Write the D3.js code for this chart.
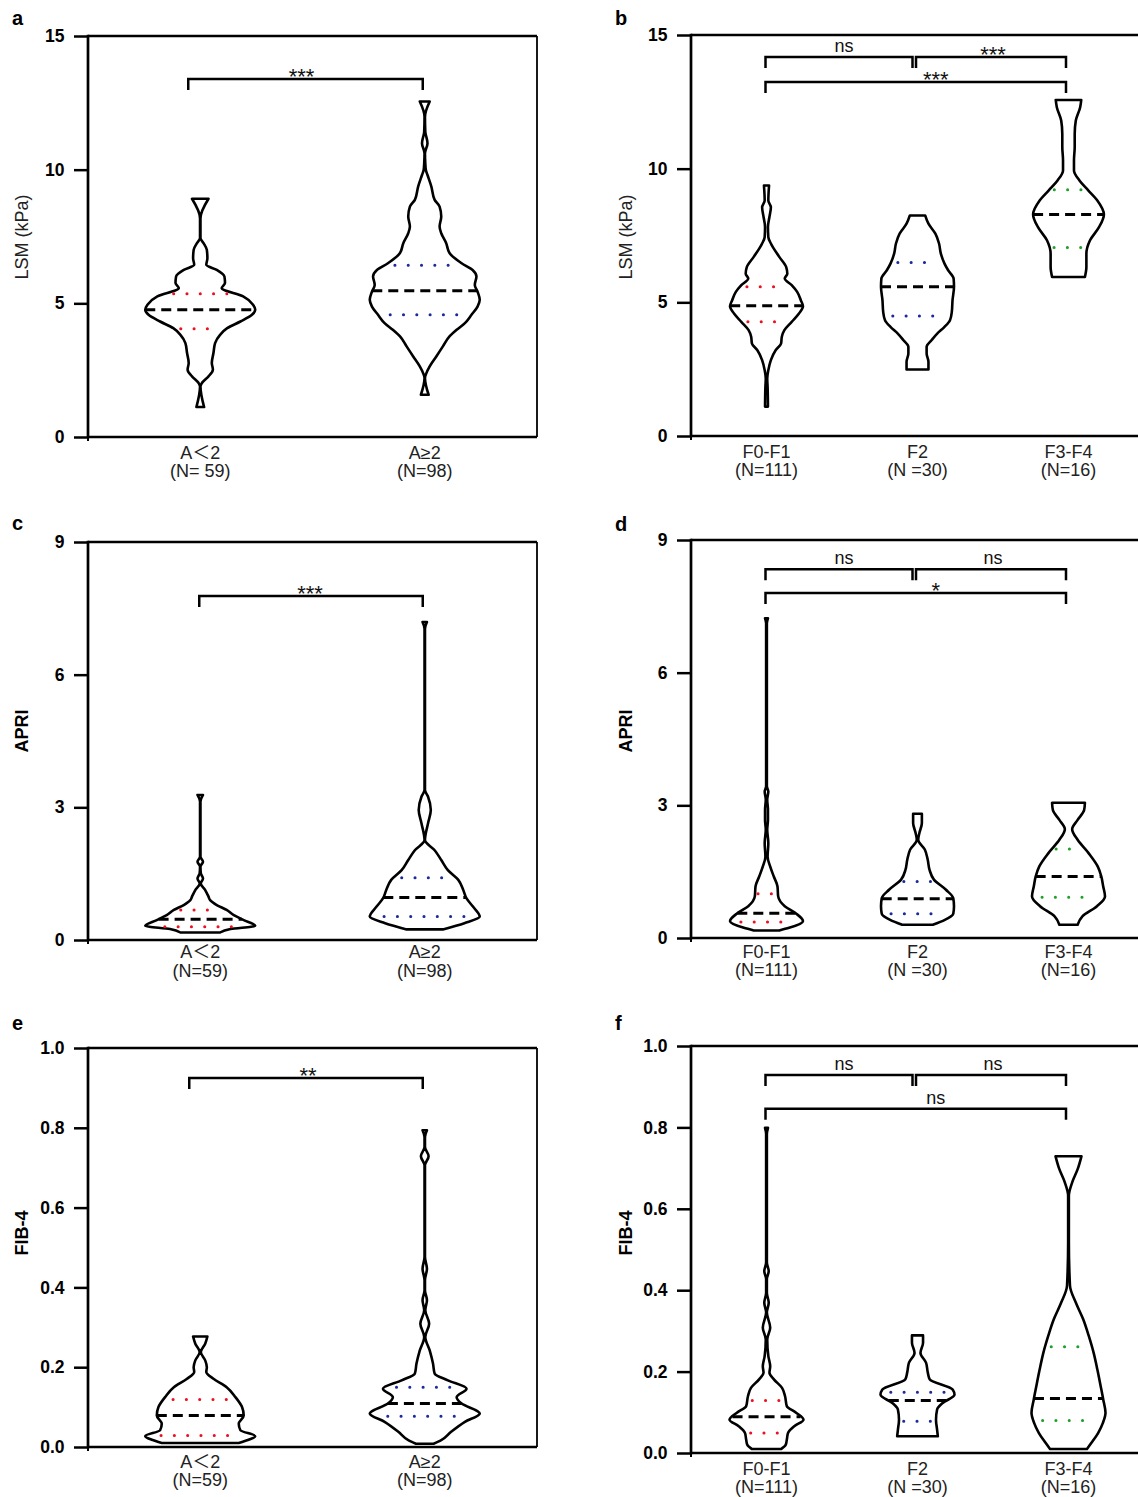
<!DOCTYPE html>
<html><head><meta charset="utf-8">
<script src="https://cdn.jsdelivr.net/npm/d3@7"></script>
<style>body{margin:0;background:#fff} text{font-family:"Liberation Sans",Arial,"Noto Sans CJK SC",sans-serif}</style>
</head><body><svg id="chart" width="1138" height="1497"></svg>
<script>
// ---------- categories ----------
const groupsActivity = ["A\uFF1C2", "A\u22652"];
const nActivityA = ["(N= 59)", "(N=98)"];
const nActivity = ["(N=59)", "(N=98)"];
const groupsFibrosis = ["F0-F1", "F2", "F3-F4"];
const nFibrosis = ["(N=111)", "(N =30)", "(N=16)"];

// ---------- tick labels ----------
const ticksLSM = [0, 5, 10, 15];
const ticksAPRI = [0, 3, 6, 9];
const ticksFIB4 = [0, 0.2, 0.4, 0.6, 0.8, 1.0];

// ---------- violin profiles: [value, relative density (1 = widest)] ----------
const lsmA_lt2 = [[8.91,0.15],[8.18,0.004],[7.44,0.004],[7.25,0.06],[7.00,0.12],[6.69,0.13],[6.44,0.11],[6.25,0.30],[6.00,0.44],[5.76,0.45],[5.57,0.39],[5.26,0.78],[4.95,0.96],[4.76,1.00],[4.57,0.94],[4.32,0.73],[4.07,0.49],[3.82,0.36],[3.51,0.27],[3.14,0.24],[2.77,0.21],[2.52,0.23],[2.27,0.15],[2.02,0.03],[1.89,0.004],[1.12,0.07]];
const lsmA_ge2 = [[12.55,0.09],[11.98,0.004],[11.42,0.01],[10.99,0.05],[10.61,0.004],[10.24,0.01],[9.99,0.02],[9.80,0.05],[9.37,0.12],[8.87,0.18],[8.62,0.27],[8.25,0.30],[7.87,0.27],[7.62,0.30],[7.25,0.39],[6.88,0.45],[6.50,0.67],[6.25,0.87],[6.00,0.94],[5.69,0.91],[5.44,0.96],[5.13,1.00],[4.88,0.96],[4.57,0.85],[4.26,0.73],[4.01,0.58],[3.76,0.45],[3.39,0.33],[3.01,0.21],[2.64,0.09],[2.39,0.03],[2.21,0.004],[1.58,0.07]];
const lsmF_01 = [[9.37,0.07],[8.81,0.05],[8.56,0.12],[8.19,0.08],[7.82,0.04],[7.44,0.05],[7.20,0.12],[6.70,0.35],[6.32,0.54],[6.07,0.57],[5.89,0.50],[5.64,0.69],[5.39,0.84],[5.08,0.94],[4.85,1.00],[4.58,0.89],[4.27,0.69],[3.96,0.49],[3.71,0.42],[3.46,0.40],[3.21,0.25],[2.84,0.12],[2.46,0.05],[2.15,0.02],[1.84,0.03],[1.10,0.04]];
const lsmF_2 = [[8.25,0.21],[7.94,0.30],[7.57,0.49],[7.20,0.59],[6.82,0.64],[6.45,0.74],[6.20,0.84],[5.89,0.99],[5.58,1.00],[5.08,0.96],[4.64,0.94],[4.33,0.89],[4.08,0.74],[3.83,0.54],[3.59,0.39],[3.34,0.25],[3.09,0.25],[2.78,0.30],[2.49,0.30]];
const lsmF_34 = [[12.57,0.35],[12.30,0.32],[11.80,0.20],[11.30,0.17],[10.81,0.17],[10.31,0.15],[9.93,0.15],[9.56,0.30],[9.19,0.54],[8.81,0.79],[8.29,0.97],[7.82,0.84],[7.32,0.59],[6.82,0.49],[6.32,0.49],[5.95,0.45]];

const apriA_lt2 = [[3.28,0.05],[3.13,0.004],[1.88,0.004],[1.77,0.05],[1.66,0.004],[1.51,0.01],[1.39,0.05],[1.28,0.01],[1.13,0.09],[0.98,0.15],[0.90,0.18],[0.79,0.30],[0.68,0.48],[0.56,0.61],[0.45,0.79],[0.32,1.00],[0.25,0.55],[0.17,0.36]];
const apriA_ge2 = [[7.19,0.04],[7.04,0.004],[3.39,0.004],[3.24,0.06],[2.94,0.11],[2.64,0.06],[2.26,0.004],[2.03,0.18],[1.81,0.30],[1.58,0.42],[1.36,0.61],[1.13,0.70],[0.94,0.76],[0.75,0.88],[0.53,1.00],[0.38,0.72],[0.24,0.33]];
const apriF_01 = [[7.23,0.04],[7.12,0.01],[3.43,0.01],[3.31,0.05],[3.13,0.02],[2.90,0.04],[2.67,0.04],[2.45,0.02],[2.15,0.05],[1.84,0.03],[1.62,0.10],[1.39,0.20],[1.17,0.30],[0.94,0.32],[0.72,0.50],[0.56,0.80],[0.38,1.00],[0.23,0.62],[0.17,0.35]];
const apriF_2 = [[2.81,0.12],[2.60,0.12],[2.37,0.05],[2.22,0.02],[2.00,0.20],[1.77,0.28],[1.54,0.33],[1.32,0.45],[1.09,0.78],[0.90,0.98],[0.72,1.00],[0.55,0.98],[0.41,0.75],[0.30,0.42]];
const apriF_34 = [[3.06,0.45],[2.90,0.43],[2.67,0.25],[2.46,0.10],[2.22,0.25],[1.92,0.55],[1.62,0.80],[1.39,0.90],[1.17,0.95],[0.94,1.00],[0.72,0.78],[0.49,0.38],[0.30,0.25]];

const fibA_lt2 = [[0.277,0.13],[0.259,0.09],[0.238,0.01],[0.217,0.09],[0.200,0.12],[0.188,0.11],[0.171,0.24],[0.150,0.48],[0.125,0.64],[0.100,0.76],[0.079,0.79],[0.058,0.70],[0.042,0.73],[0.027,1.00],[0.018,0.88],[0.010,0.70]];
const fibA_ge2 = [[0.794,0.04],[0.777,0.004],[0.752,0.004],[0.729,0.07],[0.706,0.004],[0.476,0.004],[0.447,0.04],[0.418,0.004],[0.393,0.004],[0.368,0.04],[0.343,0.01],[0.309,0.08],[0.276,0.01],[0.242,0.09],[0.209,0.15],[0.184,0.18],[0.167,0.42],[0.146,0.76],[0.125,0.58],[0.109,0.67],[0.084,1.00],[0.063,0.73],[0.038,0.48],[0.017,0.30],[0.008,0.16]];
const fibF_01 = [[0.799,0.04],[0.784,0.01],[0.468,0.01],[0.447,0.06],[0.427,0.01],[0.394,0.01],[0.369,0.06],[0.345,0.01],[0.308,0.10],[0.279,0.02],[0.238,0.05],[0.213,0.10],[0.197,0.08],[0.181,0.20],[0.160,0.42],[0.140,0.50],[0.115,0.55],[0.099,0.80],[0.082,1.00],[0.066,0.75],[0.049,0.58],[0.033,0.55],[0.020,0.52],[0.010,0.40]];
const fibF_2 = [[0.289,0.15],[0.271,0.15],[0.246,0.08],[0.222,0.23],[0.197,0.28],[0.181,0.33],[0.156,0.95],[0.143,1.00],[0.123,0.68],[0.107,0.53],[0.082,0.50],[0.057,0.53],[0.041,0.55]];
const fibF_34 = [[0.729,0.35],[0.698,0.25],[0.665,0.10],[0.632,0.01],[0.517,0.01],[0.411,0.04],[0.369,0.20],[0.328,0.40],[0.287,0.55],[0.246,0.68],[0.205,0.78],[0.164,0.87],[0.131,0.94],[0.099,1.00],[0.074,0.93],[0.049,0.80],[0.025,0.62],[0.010,0.50]];

// ---------- median, upper quartile, lower quartile per group ----------
const lsmA_stats = [[4.76,5.36,4.05],[5.47,6.42,4.57]];
const lsmF_stats = [[4.87,5.58,4.27],[5.58,6.49,4.49],[8.29,9.21,7.05]];
const apriA_stats = [[0.47,0.68,0.30],[0.96,1.41,0.53]];
const apriF_stats = [[0.56,1.00,0.36],[0.89,1.28,0.55],[1.39,2.01,0.92]];
const fibA_stats = [[0.079,0.119,0.029],[0.109,0.150,0.077]];
const fibF_stats = [[0.089,0.129,0.049],[0.129,0.149,0.078],[0.134,0.261,0.080]];

// ---------- significance brackets: [from group, to group, level (data units), label] ----------
const sigLsmA = [[0,1,13.39,"***"]];
const sigLsmF = [[0,1,14.18,"ns"],[1,2,14.18,"***"],[0,2,13.24,"***"]];
const sigApriA = [[0,1,7.78,"***"]];
const sigApriF = [[0,1,8.34,"ns"],[1,2,8.34,"ns"],[0,2,7.80,"*"]];
const sigFibA = [[0,1,0.925,"**"]];
const sigFibF = [[0,1,0.929,"ns"],[1,2,0.929,"ns"],[0,2,0.846,"ns"]];

// ---------- layout ----------
const quartColors = ["#ee1020", "#1b2a9c", "#1fa02a"];
const leftBr = [[-12,-2,-4]];
const leftBrC = [[-1,-2,-1]];
const leftBrE = [[-11,-2,2]];
const rightBr = [[-1,-5,5],[-1.5,-2.5,2],[-1,-2.5,20]];

const panels = [
  {letter:"a", x0:88, x1:537, yTop:36, yBot:437, domain:[0,15], ticks:ticksLSM, fmt:d3.format("d"),
   title:"LSM (kPa)", titleBold:false, titleY:237, groups:groupsActivity, ns:nActivityA,
   profiles:[lsmA_lt2, lsmA_ge2], stats:lsmA_stats, sig:sigLsmA, br:leftBr, maxHW:55, lab:[22,40], letterY:25},
  {letter:"b", x0:691, x1:1144, yTop:35, yBot:436, domain:[0,15], ticks:ticksLSM, fmt:d3.format("d"),
   title:"LSM (kPa)", titleBold:false, titleY:237, groups:groupsFibrosis, ns:nFibrosis,
   profiles:[lsmF_01, lsmF_2, lsmF_34], stats:lsmF_stats, sig:sigLsmF, br:rightBr, maxHW:36.5, lab:[22,40], letterY:25},
  {letter:"c", x0:88, x1:537, yTop:542, yBot:940, domain:[0,9], ticks:ticksAPRI, fmt:d3.format("d"),
   title:"APRI", titleBold:true, titleY:731, groups:groupsActivity, ns:nActivity,
   profiles:[apriA_lt2, apriA_ge2], stats:apriA_stats, sig:sigApriA, br:leftBrC, maxHW:55, lab:[18,37], letterY:530},
  {letter:"d", x0:691, x1:1144, yTop:540, yBot:938, domain:[0,9], ticks:ticksAPRI, fmt:d3.format("d"),
   title:"APRI", titleBold:true, titleY:731, groups:groupsFibrosis, ns:nFibrosis,
   profiles:[apriF_01, apriF_2, apriF_34], stats:apriF_stats, sig:sigApriF, br:rightBr, maxHW:36.5, lab:[20,38], letterY:531},
  {letter:"e", x0:88, x1:537, yTop:1048, yBot:1447, domain:[0,1], ticks:ticksFIB4, fmt:d3.format(".1f"),
   title:"FIB-4", titleBold:true, titleY:1233, groups:groupsActivity, ns:nActivity,
   profiles:[fibA_lt2, fibA_ge2], stats:fibA_stats, sig:sigFibA, br:leftBrE, maxHW:55, lab:[21,39], letterY:1030},
  {letter:"f", x0:691, x1:1144, yTop:1046, yBot:1453, domain:[0,1], ticks:ticksFIB4, fmt:d3.format(".1f"),
   title:"FIB-4", titleBold:true, titleY:1233, groups:groupsFibrosis, ns:nFibrosis,
   profiles:[fibF_01, fibF_2, fibF_34], stats:fibF_stats, sig:sigFibF, br:rightBr, maxHW:37, lab:[22,40], letterY:1030}
];

const svg = d3.select("#chart");

panels.forEach(p => {
  const g = svg.append("g");
  const left = p.x0 < 300;
  const y = d3.scaleLinear().domain(p.domain).range([p.yBot, p.yTop]);
  const x = d3.scalePoint().domain(d3.range(p.groups.length)).range([p.x0, p.x1]).padding(0.5);
  const w = d3.scaleLinear().domain([0, 1]).range([0, p.maxHW]);

  // frame
  g.append("line").attr("x1", p.x0).attr("x2", p.x1).attr("y1", p.yTop).attr("y2", p.yTop)
    .attr("stroke", "#000").attr("stroke-width", 2.7);
  g.append("line").attr("x1", p.x0).attr("x2", p.x1).attr("y1", p.yBot).attr("y2", p.yBot)
    .attr("stroke", "#000").attr("stroke-width", 2.7);
  if (left) {
    g.append("line").attr("x1", p.x1).attr("x2", p.x1).attr("y1", p.yTop).attr("y2", p.yBot)
      .attr("stroke", "#000").attr("stroke-width", 1.8);
  }
  g.append("line").attr("x1", p.x0).attr("x2", p.x0).attr("y1", p.yBot).attr("y2", p.yBot + 4)
    .attr("stroke", "#000").attr("stroke-width", 2);

  // y axis
  const ax = g.append("g").attr("transform", `translate(${p.x0},0)`)
    .call(d3.axisLeft(y).tickValues(p.ticks).tickFormat(p.fmt).tickSize(14).tickSizeOuter(0).tickPadding(9.5));
  ax.select(".domain").remove();
  ax.selectAll(".tick line").attr("stroke", "#000").attr("stroke-width", 2.5);
  ax.selectAll(".tick text").attr("fill", "#000").style("font-size", "17.5px").style("font-weight", "bold")
    .style("font-family", '"Liberation Sans", Arial, sans-serif');
  g.append("line").attr("x1", p.x0).attr("x2", p.x0).attr("y1", p.yTop - 1.3).attr("y2", p.yBot + 1.3)
    .attr("stroke", "#000").attr("stroke-width", 2.7);

  // axis title
  g.append("text").attr("transform", `translate(${left ? 28 : 632},${p.titleY}) rotate(-90)`)
    .attr("text-anchor", "middle").style("font-size", "18px")
    .style("font-weight", p.titleBold ? "bold" : "normal").attr("fill", p.titleBold ? "#000" : "#222")
    .text(p.title);

  // panel letter
  g.append("text").attr("x", left ? 12 : 615).attr("y", p.letterY)
    .style("font-size", "20px").style("font-weight", "bold").text(p.letter);

  // category labels
  p.groups.forEach((name, i) => {
    g.append("text").attr("x", x(i)).attr("y", p.yBot + p.lab[0]).attr("text-anchor", "middle")
      .style("font-size", "18px").attr("fill", "#222").text(name);
    g.append("text").attr("x", x(i)).attr("y", p.yBot + p.lab[1]).attr("text-anchor", "middle")
      .style("font-size", "18px").attr("fill", "#222").text(p.ns[i]);
  });

  // violins
  p.profiles.forEach((prof, i) => {
    const cx = x(i);
    const area = d3.area()
      .y(d => y(d[0]))
      .x0(d => cx - w(d[1]))
      .x1(d => cx + w(d[1]))
      .curve(d3.curveMonotoneY);
    g.append("path").datum(prof).attr("d", area)
      .attr("fill", "#fff").attr("stroke", "#000").attr("stroke-width", 2.6).attr("stroke-linejoin", "round");

    const dens = d3.scaleLinear().domain(prof.map(d => d[0])).range(prof.map(d => d[1])).clamp(true);
    const [med, q3, q1] = p.stats[i];
    [q3, q1].forEach(q => {
      const hw = Math.max(0, w(dens(q)) * 0.74);
      g.append("line").attr("x1", cx - hw).attr("x2", cx + hw).attr("y1", y(q)).attr("y2", y(q))
        .attr("stroke", quartColors[i]).attr("stroke-width", 3).attr("stroke-linecap", "round")
        .attr("stroke-dasharray", "0.1,13.2");
    });
    const mw = w(dens(med));
    g.append("line").attr("x1", cx - mw).attr("x2", cx + mw).attr("y1", y(med)).attr("y2", y(med))
      .attr("stroke", "#000").attr("stroke-width", 3).attr("stroke-dasharray", "10,6");
  });

  // significance brackets
  p.sig.forEach((s, k) => {
    const [a, b, lvl, label] = s;
    const off = p.br[k] || [0, 0, 0];
    const xa = x(a) + off[0], xb = x(b) + off[1], yy = y(lvl);
    g.append("path").attr("d", `M${xa},${yy + 11}V${yy}H${xb}V${yy + 11}`)
      .attr("fill", "none").attr("stroke", "#000").attr("stroke-width", 2.5);
    const isStar = label.indexOf("*") >= 0;
    g.append("text").attr("x", (xa + xb) / 2 + off[2]).attr("y", isStar ? yy + 5 : yy - 5)
      .attr("text-anchor", "middle").style("font-size", isStar ? "22px" : "18px").attr("fill", "#111").text(label);
  });
});
</script>
</body></html>
